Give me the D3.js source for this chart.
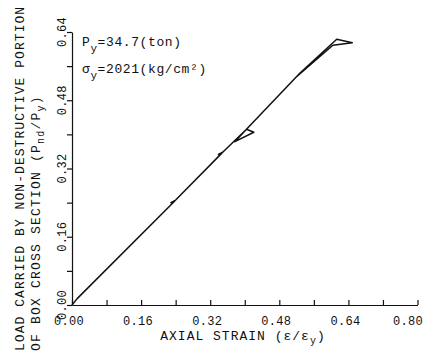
<!DOCTYPE html>
<html><head><meta charset="utf-8">
<script src="https://cdn.jsdelivr.net/npm/d3@7/dist/d3.min.js"></script>
<style>
body{margin:0;background:#fff;}
svg{display:block;}
text{font-family:"Liberation Mono","DejaVu Sans Mono",monospace;fill:#111;}
</style></head>
<body>
<script>
// data: axial strain (ε/εy) vs load ratio (Pnd/Py)
const strain = [0.000,0.012,0.238,0.229,0.240,0.347,0.339,0.349,0.404,0.421,0.377,0.404,0.528,0.613,0.649,0.604,0.520];
const load   = [0.000,0.015,0.244,0.240,0.246,0.356,0.353,0.358,0.412,0.405,0.383,0.412,0.544,0.623,0.615,0.609,0.535];
const xTicks = [0,0.08,0.16,0.24,0.32,0.40,0.48,0.56,0.64,0.72,0.80];
const yTicks = [0,0.08,0.16,0.24,0.32,0.40,0.48,0.56,0.64];
const xLabelTicks = [0,0.16,0.32,0.48,0.64,0.80];
const yLabelTicks = [0,0.16,0.32,0.48,0.64];

const W=428,H=354;
const svg=d3.select("body").append("svg").attr("width",W).attr("height",H);
const x=d3.scaleLinear().domain([0,0.8]).range([72,417.5]);
const y=d3.scaleLinear().domain([0,0.64]).range([305,32]);

// x axis (ticks inward)
const xa=svg.append("g").attr("transform","translate(0,305)")
  .call(d3.axisBottom(x).tickValues(xTicks).tickSizeInner(-5).tickSizeOuter(0).tickFormat(""));
xa.select(".domain").attr("stroke","#111").attr("stroke-width",1.2);
xa.selectAll(".tick line").attr("stroke","#111").attr("stroke-width",1.2);
svg.append("g").selectAll("text").data(xLabelTicks).join("text")
  .attr("x",d=>Math.min(x(d)-3,408)).attr("y",325).attr("text-anchor","middle")
  .style("font-size","12px").style("letter-spacing","0.3px")
  .text(d=>d.toFixed(2));

// y axis (ticks outward)
const ya=svg.append("g").attr("transform","translate(72,0)")
  .call(d3.axisLeft(y).tickValues(yTicks).tickSizeInner(5).tickSizeOuter(0).tickFormat(""));
ya.select(".domain").attr("stroke","#111").attr("stroke-width",1.2);
ya.selectAll(".tick line").attr("stroke","#111").attr("stroke-width",1.2);
svg.append("g").selectAll("text").data(yLabelTicks).join("text")
  .attr("transform",d=>`translate(66,${y(d)}) rotate(-90)`).attr("text-anchor","middle")
  .style("font-size","12px").style("letter-spacing","0.3px")
  .text(d=>d.toFixed(2));

// curve
const pts=strain.map((s,i)=>[s,load[i]]);
svg.append("path").datum(pts)
  .attr("d",d3.line().x(d=>x(d[0])).y(d=>y(d[1])))
  .attr("fill","none").attr("stroke","#111").attr("stroke-width",1.5).attr("stroke-linejoin","round");

// x title
const xt=svg.append("text").attr("x",243).attr("y",340).attr("text-anchor","middle")
  .style("font-size","13px").style("letter-spacing","1px");
xt.append("tspan").text("AXIAL STRAIN (ε/ε");
xt.append("tspan").attr("dy",4).style("font-size","10px").text("y");
xt.append("tspan").attr("dy",-4).text(")");

// y title
svg.append("text").attr("transform","translate(24,351) rotate(-90)").attr("text-anchor","start")
  .style("font-size","13px").style("letter-spacing","1.05px")
  .text("LOAD CARRIED BY NON-DESTRUCTIVE PORTION");
const yt2=svg.append("text").attr("transform","translate(40,351) rotate(-90)").attr("text-anchor","start")
  .style("font-size","13px").style("letter-spacing","1.2px");
yt2.append("tspan").text("OF BOX CROSS SECTION  (P");
yt2.append("tspan").attr("dy",4).style("font-size","10px").text("nd");
yt2.append("tspan").attr("dy",-4).text("/P");
yt2.append("tspan").attr("dy",4).style("font-size","10px").text("y");
yt2.append("tspan").attr("dy",-4).text(")");

// annotations
const a1=svg.append("text").attr("x",82).attr("y",46).style("font-size","13px").style("letter-spacing","0.6px");
a1.append("tspan").text("P");
a1.append("tspan").attr("dy",6).style("font-size","11px").text("y");
a1.append("tspan").attr("dy",-6).text("=34.7(ton)");
const a2=svg.append("text").attr("x",82).attr("y",73).style("font-size","13px").style("letter-spacing","0.6px");
a2.append("tspan").text("σ");
a2.append("tspan").attr("dy",6).style("font-size","11px").text("y");
a2.append("tspan").attr("dy",-6).text("=2021(kg/cm²)");
</script>
</body></html>
